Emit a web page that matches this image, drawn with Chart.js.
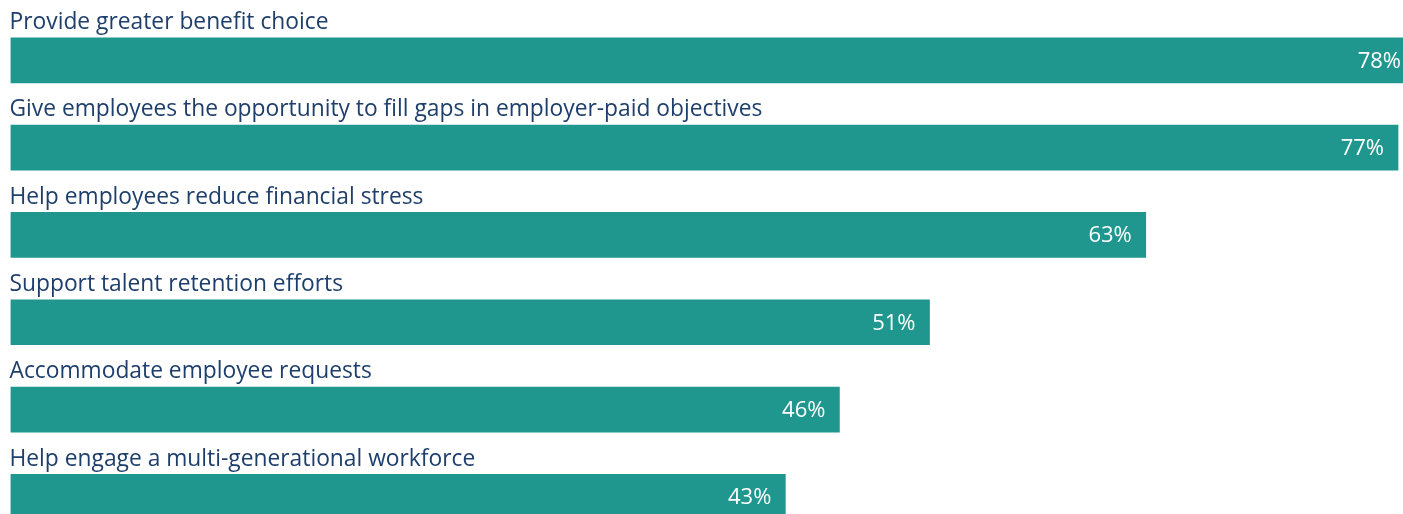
<!DOCTYPE html>
<html>
<head>
<meta charset="utf-8">
<script src="https://cdn.jsdelivr.net/npm/chart.js@4.4.1/dist/chart.umd.min.js"></script>
<style>
  html, body { margin: 0; padding: 0; background: #fff; overflow: hidden; }
  #wrap { width: 1460px; height: 545px; }
</style>
</head>
<body>
<div id="wrap"><canvas id="reasons" width="1460" height="545"></canvas></div>
<script>
const reasons = [
  'Provide greater benefit choice',
  'Give employees the opportunity to fill gaps in employer-paid objectives',
  'Help employees reduce financial stress',
  'Support talent retention efforts',
  'Accommodate employee requests',
  'Help engage a multi-generational workforce'
];
const shares = [78, 77, 63, 51, 46, 43];

const teal = '#1f978e';
const navy = '#1e3f6c';
const fontFamily = '"Open Sans", sans-serif';

// category text sits above each bar, the percentage inside its right end
const barLabels = {
  id: 'barLabels',
  afterDatasetsDraw(chart) {
    const ctx = chart.ctx;
    const meta = chart.getDatasetMeta(0);
    ctx.save();
    meta.data.forEach((bar, i) => {
      const top = bar.y - bar.height / 2;
      ctx.font = '22.8px ' + fontFamily;
      ctx.fillStyle = navy;
      ctx.textAlign = 'left';
      ctx.textBaseline = 'alphabetic';
      ctx.fillText(reasons[i], 9.5, top - 8.7);

      ctx.font = '22px ' + fontFamily;
      ctx.fillStyle = '#ffffff';
      ctx.textAlign = 'right';
      ctx.textBaseline = 'middle';
      ctx.fillText(shares[i] + '%', Math.min(bar.x, 1415) - 14, bar.y + 1);
    });
    ctx.restore();
  }
};

new Chart(document.getElementById('reasons'), {
  type: 'bar',
  data: {
    labels: reasons,
    datasets: [{
      data: shares,
      backgroundColor: teal,
      borderWidth: 0,
      barThickness: 45
    }]
  },
  options: {
    indexAxis: 'y',
    responsive: false,
    animation: false,
    layout: { padding: { left: 10.5, right: 7.9, top: 16.7, bottom: 4.5 } },
    plugins: { legend: { display: false }, tooltip: { enabled: false } },
    scales: {
      x: { min: 0, max: 80, display: false },
      y: { display: false }
    }
  },
  plugins: [barLabels]
});
</script>
</body>
</html>
